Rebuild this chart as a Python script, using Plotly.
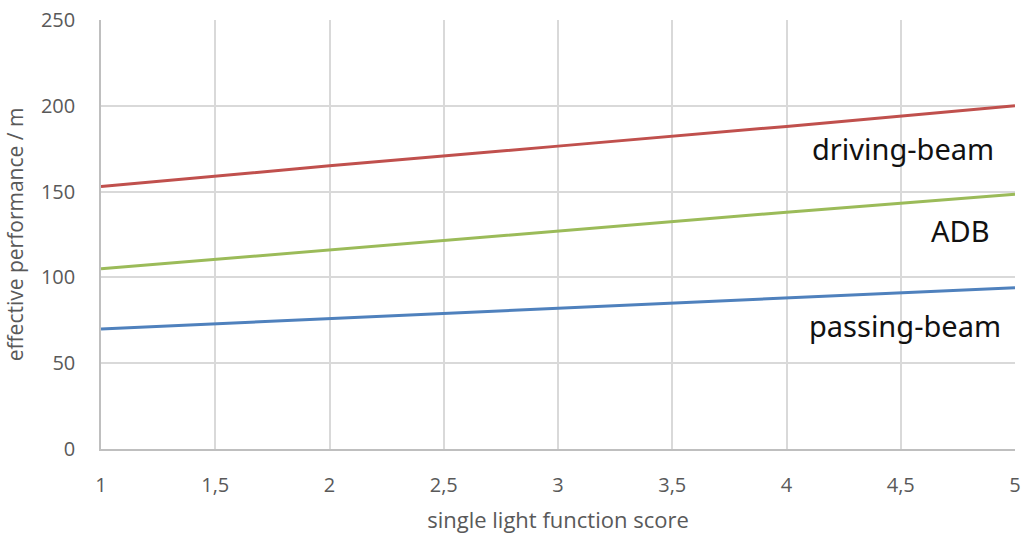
import plotly.graph_objects as go

x_scores = [1, 2, 3, 4, 5]
driving_beam = [153, 165, 176.5, 188, 200]
adb = [105, 116, 127, 138, 148.5]
passing_beam = [70, 76, 82, 88, 94]

series = [
    ("driving-beam", driving_beam, "#C0504D"),
    ("ADB", adb, "#9BBB59"),
    ("passing-beam", passing_beam, "#4F81BD"),
]

labels = [
    ("driving-beam", 4.51, 175),
    ("ADB", 4.76, 127.5),
    ("passing-beam", 4.52, 72),
]

fig = go.Figure()
for name, vals, col in series:
    fig.add_trace(go.Scatter(x=x_scores, y=vals, mode="lines", name=name,
                             line=dict(color=col, width=3)))

for text, lx, ly in labels:
    fig.add_annotation(x=lx, y=ly, text=text, showarrow=False,
                       font=dict(family="Noto Sans, Open Sans", size=29, color="#111111"))

fig.update_layout(
    width=1022, height=534,
    margin=dict(l=101, r=7, t=20, b=85),
    plot_bgcolor="white", paper_bgcolor="white",
    showlegend=False,
    separators=", ",
    xaxis=dict(range=[1, 5], dtick=0.5, tick0=1, showgrid=True, gridcolor="#D9D9D9", gridwidth=1.5,
               showline=True, linecolor="#BFBFBF", linewidth=1.5, zeroline=False, automargin=False,
               tickfont=dict(family="Open Sans", size=20, color="#595959"),
               ticks="", ticklabelstandoff=17, ticklabeloverflow="allow",
               title=dict(text="single light function score", standoff=16,
                          font=dict(family="Open Sans", size=22, color="#595959"))),
    yaxis=dict(range=[0, 250], dtick=50, tick0=0, showgrid=True, gridcolor="#D9D9D9", gridwidth=1.5,
               showline=True, linecolor="#BFBFBF", linewidth=1.5, zeroline=False, automargin=False,
               tickfont=dict(family="Open Sans", size=20, color="#595959"), ticks="", ticklabelstandoff=20,
               ticklabeloverflow="allow",
               title=dict(text="effective performance / m", standoff=12,
                          font=dict(family="Open Sans", size=21, color="#595959"))),
)
fig.write_html("out.html", config={"displayModeBar": False},
               post_script="document.body.style.margin='0';")
